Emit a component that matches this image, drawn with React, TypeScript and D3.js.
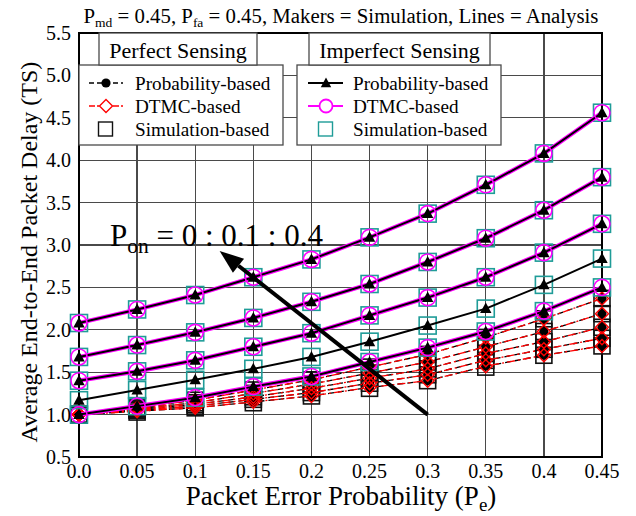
import React from 'react';
import * as d3 from 'd3';

// packet error probability (x axis)
const pe = [0, 0.05, 0.1, 0.15, 0.2, 0.25, 0.3, 0.35, 0.4, 0.45];
const xTickLabels = ['0.0', '0.05', '0.1', '0.15', '0.2', '0.25', '0.3', '0.35', '0.4', '0.45'];
const yTicks = [0.5, 1.0, 1.5, 2.0, 2.5, 3.0, 3.5, 4.0, 4.5, 5.0, 5.5];

// imperfect sensing, P_on = 0, 0.1, 0.2, 0.3, 0.4
const imperfectProb = [
  [1.00, 1.10, 1.20, 1.33, 1.45, 1.62, 1.79, 1.98, 2.22, 2.50],
  [1.17, 1.29, 1.41, 1.54, 1.68, 1.86, 2.05, 2.25, 2.53, 2.84],
  [1.40, 1.51, 1.64, 1.80, 1.96, 2.17, 2.38, 2.62, 2.91, 3.25],
  [1.68, 1.82, 1.97, 2.14, 2.33, 2.54, 2.80, 3.08, 3.41, 3.80],
  [2.08, 2.24, 2.41, 2.62, 2.83, 3.09, 3.37, 3.71, 4.08, 4.56],
];
// DTMC curve for P_on = 0.1 is not drawn in the reference
const imperfectDtmc = [
  [1.00, 1.10, 1.20, 1.33, 1.45, 1.62, 1.79, 1.98, 2.22, 2.50],
  null,
  [1.40, 1.51, 1.64, 1.80, 1.96, 2.17, 2.38, 2.62, 2.91, 3.25],
  [1.68, 1.82, 1.97, 2.14, 2.33, 2.54, 2.80, 3.08, 3.41, 3.80],
  [2.08, 2.24, 2.41, 2.62, 2.83, 3.09, 3.37, 3.71, 4.08, 4.56],
];
const imperfectSim = [
  [1.00, 1.10, 1.20, 1.33, 1.45, 1.62, 1.79, 1.98, 2.22, 2.50],
  [1.17, 1.29, 1.41, 1.54, 1.68, 1.86, 2.05, 2.25, 2.53, 2.84],
  [1.40, 1.51, 1.64, 1.80, 1.96, 2.17, 2.38, 2.62, 2.91, 3.25],
  [1.68, 1.82, 1.97, 2.14, 2.33, 2.54, 2.80, 3.08, 3.41, 3.80],
  [2.08, 2.24, 2.41, 2.62, 2.83, 3.09, 3.37, 3.71, 4.08, 4.56],
];

// perfect sensing, P_on = 0 .. 0.4
const perfectProb = [
  [1.00, 1.04, 1.08, 1.15, 1.22, 1.32, 1.40, 1.57, 1.70, 1.81],
  [1.00, 1.05, 1.10, 1.18, 1.26, 1.37, 1.47, 1.64, 1.77, 1.90],
  [1.00, 1.06, 1.12, 1.21, 1.31, 1.43, 1.54, 1.72, 1.86, 2.03],
  [1.00, 1.07, 1.14, 1.25, 1.36, 1.49, 1.62, 1.80, 1.98, 2.19],
  [1.00, 1.08, 1.17, 1.29, 1.41, 1.56, 1.71, 1.91, 2.13, 2.37],
];
const perfectDtmc = [
  [1.00, 1.04, 1.08, 1.15, 1.22, 1.32, 1.40, 1.57, 1.70, 1.81],
  [1.00, 1.05, 1.10, 1.18, 1.26, 1.37, 1.47, 1.64, 1.77, 1.90],
  [1.00, 1.06, 1.12, 1.21, 1.31, 1.43, 1.54, 1.72, 1.86, 2.03],
  [1.00, 1.07, 1.14, 1.25, 1.36, 1.49, 1.62, 1.80, 1.98, 2.19],
  [1.00, 1.08, 1.17, 1.29, 1.41, 1.56, 1.71, 1.91, 2.13, 2.37],
];
const perfectSim = [
  [1.00, 1.03, 1.08, 1.14, 1.22, 1.31, 1.40, 1.56, 1.70, 1.81],
  [1.00, 1.05, 1.10, 1.18, 1.26, 1.37, 1.47, 1.64, 1.77, 1.90],
  [1.00, 1.06, 1.12, 1.21, 1.31, 1.43, 1.54, 1.72, 1.86, 2.03],
  [1.00, 1.07, 1.14, 1.25, 1.36, 1.49, 1.62, 1.80, 1.98, 2.19],
  [1.00, 1.08, 1.17, 1.29, 1.41, 1.56, 1.71, 1.91, 2.13, 2.37],
];

const legendLabels = ['Probability-based', 'DTMC-based', 'Simulation-based'];

const W = 636;
const H = 516;
const margin = { top: 33, right: 34, bottom: 59, left: 79 };
const FONT = '"Liberation Serif", "Times New Roman", serif';
const TEAL = '#1f9c98';
const MAGENTA = '#ff00ff';
const RED = '#ff0000';
const GRID = '#4a4a4a';

const x = d3.scaleLinear().domain([0, 0.45]).range([margin.left, W - margin.right]);
const y = d3.scaleLinear().domain([0.5, 5.5]).range([H - margin.bottom, margin.top]);

const line = d3.line<number>().x((_, i) => x(pe[i])).y(d => y(d));

const triPath = (cx: number, cy: number, s = 6) =>
  `M${cx},${cy - s} L${cx + s * 0.95},${cy + s * 0.75} L${cx - s * 0.95},${cy + s * 0.75} Z`;
const diaPath = (cx: number, cy: number, s = 6.5) =>
  `M${cx},${cy - s} L${cx + s},${cy} L${cx},${cy + s} L${cx - s},${cy} Z`;

const App = () => {
  // arrow from (0.3, 1.0) up to the annotation
  const ax0 = x(0.3), ay0 = y(1.0);
  const ax1 = x(0.121), ay1 = y(2.93);
  const ang = Math.atan2(ay1 - ay0, ax1 - ax0);
  const headLen = 24, headW = 9;
  const bx = ax1 - headLen * Math.cos(ang), by = ay1 - headLen * Math.sin(ang);
  const px = -Math.sin(ang), py = Math.cos(ang);

  const legendRow = [90, 113, 136];

  return (
    <svg width={W} height={H} style={{ position: 'absolute', left: 0, top: 0, background: '#fff' }}
      fontFamily={FONT}>
      {/* title */}
      <text x={341} y={23} textAnchor="middle" fontSize={20.8} fill="#000">
        P<tspan dy={4} fontSize={13.5}>md</tspan><tspan dy={-4}> = 0.45, P</tspan>
        <tspan dy={4} fontSize={13.5}>fa</tspan><tspan dy={-4}> = 0.45, Makers = Simulation, Lines = Analysis</tspan>
      </text>

      {/* grid */}
      <g shapeRendering="crispEdges">
        {yTicks.map(t => (
          <line key={'h' + t} x1={x(0)} x2={x(0.45)} y1={y(t)} y2={y(t)} stroke={GRID} strokeWidth={1.3} />
        ))}
        {pe.map(t => (
          <line key={'v' + t} x1={x(t)} x2={x(t)} y1={y(0.5)} y2={y(5.5)} stroke={GRID} strokeWidth={1.3} />
        ))}
        <rect x={x(0)} y={y(5.5)} width={x(0.45) - x(0)} height={y(0.5) - y(5.5)}
          fill="none" stroke="#000" strokeWidth={1.3} />
      </g>

      {/* perfect sensing */}
      <g>
        {perfectSim.map((s, k) => s.map((v, i) => (
          <rect key={`ps${k}-${i}`} x={x(pe[i]) - 8} y={y(v) - 8} width={16} height={16}
            fill="none" stroke="#111" strokeWidth={1.6} />
        )))}
        {perfectProb.map((s, k) => (
          <path key={`pp${k}`} d={line(s) || ''} fill="none" stroke="#000" strokeWidth={1.3}
            strokeDasharray="6 4" />
        ))}
        {perfectDtmc.map((s, k) => (
          <path key={`pd${k}`} d={line(s) || ''} fill="none" stroke={RED} strokeWidth={1.3}
            strokeDasharray="8 3 2 3" />
        ))}
        {perfectProb.map((s, k) => s.map((v, i) => (
          <circle key={`ppm${k}-${i}`} cx={x(pe[i])} cy={y(v)} r={4.6} fill="#000" />
        )))}
        {perfectDtmc.map((s, k) => s.map((v, i) => (
          <path key={`pdm${k}-${i}`} d={diaPath(x(pe[i]), y(v))} fill="none" stroke={RED} strokeWidth={1.4} />
        )))}
      </g>

      {/* imperfect sensing */}
      <g>
        {imperfectSim.map((s, k) => s.map((v, i) => (
          <rect key={`is${k}-${i}`} x={x(pe[i]) - 8.5} y={y(v) - 8.5} width={17} height={17}
            fill="none" stroke={TEAL} strokeWidth={1.6} />
        )))}
        {imperfectDtmc.map((s, k) => s ? (
          <path key={`id${k}`} d={line(s) || ''} fill="none" stroke={MAGENTA} strokeWidth={4.2} />
        ) : null)}
        {imperfectProb.map((s, k) => (
          <path key={`ip${k}`} d={line(s) || ''} fill="none" stroke="#000" strokeWidth={2} />
        ))}
        {imperfectDtmc.map((s, k) => s ? s.map((v, i) => (
          <circle key={`idm${k}-${i}`} cx={x(pe[i])} cy={y(v)} r={8} fill="none" stroke={MAGENTA} strokeWidth={1.6} />
        )) : null)}
        {imperfectProb.map((s, k) => s.map((v, i) => (
          <path key={`ipm${k}-${i}`} d={triPath(x(pe[i]), y(v))} fill="#000" />
        )))}
      </g>

      {/* arrow and annotation */}
      <line x1={ax0} y1={ay0} x2={bx} y2={by} stroke="#000" strokeWidth={4} />
      <path d={`M${ax1},${ay1} L${bx + px * headW},${by + py * headW} L${bx - px * headW},${by - py * headW} Z`} fill="#000" />
      <text x={110} y={246} fontSize={31} fill="#000">
        P<tspan dy={7} fontSize={21.5}>on</tspan><tspan dy={-7}> = 0 : 0.1 : 0.4</tspan>
      </text>

      {/* axis tick labels */}
      {yTicks.map(t => (
        <text key={'yl' + t} x={71} y={y(t) + 7} textAnchor="end" fontSize={20}>{t.toFixed(1)}</text>
      ))}
      {pe.map((t, i) => (
        <text key={'xl' + t} x={x(t)} y={478} textAnchor="middle" fontSize={20}>{xTickLabels[i]}</text>
      ))}

      {/* axis titles */}
      <text x={341} y={505} textAnchor="middle" fontSize={27}>
        Packet Error Probability (P<tspan dy={6} fontSize={19}>e</tspan><tspan dy={-6}>)</tspan>
      </text>
      <text transform={`translate(37,252) rotate(-90)`} textAnchor="middle" fontSize={24}>
        Average End-to-End Packet Delay (TS)
      </text>

      {/* legend: perfect sensing */}
      <g>
        <rect x={79} y={65} width={204} height={80} fill="#fff" stroke={GRID} strokeWidth={1.3} />
        <rect x={99} y={33} width={158} height={32} fill="#fff" stroke={GRID} strokeWidth={1.3} />
        <text x={178} y={58} textAnchor="middle" fontSize={22}>Perfect Sensing</text>
        <line x1={89} x2={123} y1={legendRow[0] - 7} y2={legendRow[0] - 7} stroke="#000" strokeWidth={1.3} strokeDasharray="5 3" />
        <circle cx={106} cy={legendRow[0] - 7} r={4.6} fill="#000" />
        <line x1={89} x2={123} y1={legendRow[1] - 7} y2={legendRow[1] - 7} stroke={RED} strokeWidth={1.3} strokeDasharray="6 2 2 2" />
        <path d={diaPath(106, legendRow[1] - 7)} fill="#fff" stroke={RED} strokeWidth={1.4} />
        <rect x={98.5} y={legendRow[2] - 14} width={14} height={14} fill="none" stroke="#111" strokeWidth={1.4} />
        {legendLabels.map((s, i) => (
          <text key={'pl' + i} x={135} y={legendRow[i]} fontSize={19.2}>{s}</text>
        ))}
      </g>

      {/* legend: imperfect sensing */}
      <g>
        <rect x={297} y={65} width={204} height={80} fill="#fff" stroke={GRID} strokeWidth={1.3} />
        <rect x={309} y={33} width={181} height={32} fill="#fff" stroke={GRID} strokeWidth={1.3} />
        <text x={399.5} y={58} textAnchor="middle" fontSize={22}>Imperfect Sensing</text>
        <line x1={308} x2={343} y1={legendRow[0] - 7} y2={legendRow[0] - 7} stroke="#000" strokeWidth={2} />
        <path d={triPath(326, legendRow[0] - 7, 5.5)} fill="#000" />
        <line x1={308} x2={343} y1={legendRow[1] - 7} y2={legendRow[1] - 7} stroke={MAGENTA} strokeWidth={2} />
        <circle cx={326} cy={legendRow[1] - 7} r={6.5} fill="#fff" stroke={MAGENTA} strokeWidth={1.8} />
        <rect x={318.5} y={legendRow[2] - 14} width={14} height={14} fill="none" stroke={TEAL} strokeWidth={1.4} />
        {legendLabels.map((s, i) => (
          <text key={'il' + i} x={353} y={legendRow[i]} fontSize={19.2}>{s}</text>
        ))}
      </g>
    </svg>
  );
};

export default App;
